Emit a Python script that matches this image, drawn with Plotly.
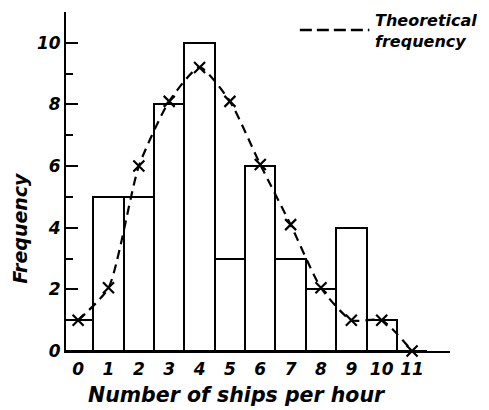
import plotly.graph_objects as go

ships = list(range(0, 12))
observed = [1, 5, 5, 8, 10, 3, 6, 3, 2, 4, 1, 0]
theoretical = [1.0, 2.05, 6.0, 8.1, 9.2, 8.1, 6.05, 4.1, 2.05, 1.0, 1.0, 0.0]
y_ticks = [0, 2, 4, 6, 8, 10]
x_ticks = ships

def font(size):
    return dict(family="DejaVu Sans", size=size, color="black", style="italic", weight="bold")

fig = go.Figure()
fig.add_trace(go.Bar(
    x=ships, y=observed, width=1,
    marker=dict(color="white", line=dict(color="black", width=2)),
    showlegend=False,
))
fig.add_trace(go.Scatter(
    x=ships, y=theoretical, mode="lines+markers",
    line=dict(color="black", width=2.2, dash="9px,6px", shape="spline", smoothing=0.6),
    marker=dict(symbol="x-thin", size=11, line=dict(color="black", width=2.2)),
    showlegend=False, cliponaxis=False,
))

fig.update_layout(
    width=481, height=402,
    margin=dict(l=58, r=39, t=4, b=59),
    paper_bgcolor="white", plot_bgcolor="white",
    font=font(17),
    bargap=0,
    xaxis=dict(range=[-0.4, 12.25], tickvals=x_ticks, ticktext=[str(v) for v in x_ticks],
               showline=True, linecolor="black", linewidth=2, ticks="", showgrid=False,
               zeroline=False, tickfont=font(17), ticklabelstandoff=2),
    yaxis=dict(range=[0, 11.0], tickvals=y_ticks, showline=True, linecolor="black",
               linewidth=2, ticks="inside", ticklen=12, tickwidth=2, tickcolor="black",
               minor=dict(dtick=1, ticks="inside", ticklen=7, tickwidth=2, tickcolor="black"),
               showgrid=False, zeroline=False, tickfont=font(17)),
    annotations=[
        dict(text="Number of ships per hour", xref="paper", yref="paper", x=0.445, y=-0.088,
             xanchor="center", yanchor="top", showarrow=False, font=font(20.5)),
        dict(text="Frequency", xref="paper", yref="paper", x=-0.12, y=0.363, textangle=-90,
             xanchor="center", yanchor="middle", showarrow=False, font=font(19)),
        dict(text="Theoretical<br>frequency", xref="paper", yref="paper", x=0.80, y=1.01,
             xanchor="left", yanchor="top", align="left", showarrow=False, font=font(16)),
    ],
    shapes=[
        dict(type="line", xref="paper", yref="paper", x0=0.609, x1=0.79, y0=0.947, y1=0.947,
             line=dict(color="black", width=2.5, dash="12px,5px")),
    ],
)

fig.write_html("out.html")
